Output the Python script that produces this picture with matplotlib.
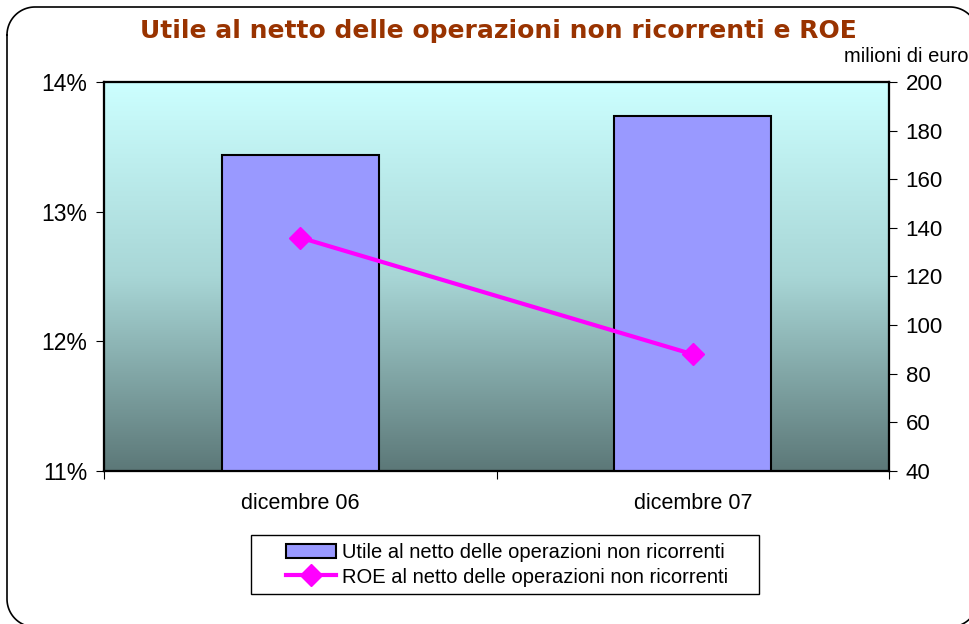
import numpy as np
import matplotlib
matplotlib.use("Agg")
import matplotlib.pyplot as plt
from matplotlib.patches import Rectangle
from matplotlib.colors import LinearSegmentedColormap
from matplotlib.ticker import FuncFormatter

# data
categories = ["dicembre 06", "dicembre 07"]
utile = [170, 186]          # milioni di euro (right axis)
roe = [12.80, 11.90]        # % (left axis)

plt.rcParams['font.family'] = ['Liberation Sans', 'DejaVu Sans']

fig = plt.figure(figsize=(9.69, 6.24), dpi=100)
W, H = 969, 624


def rounded_outline(x0, y0, x1, y1, r, n=30):
    # corners: top-left, top-right, bottom-right, bottom-left (y grows downward)
    pts = []
    for cx, cy, a0 in [(x0 + r, y0 + r, 180), (x1 - r, y0 + r, 270),
                       (x1 - r, y1 - r, 0), (x0 + r, y1 - r, 90)]:
        t = np.radians(np.linspace(a0, a0 + 90, n))
        pts.append(np.column_stack([cx + r * np.cos(t), cy + r * np.sin(t)]))
    pts = np.vstack(pts + [pts[0][:1]])
    return pts[:, 0], pts[:, 1]


# background axes in pixel units for the slide frame and legend box
bg = fig.add_axes([0, 0, 1, 1], zorder=-1)
bg.set_xlim(0, W)
bg.set_ylim(H, 0)
bg.axis("off")
fx, fy = rounded_outline(7, 7, 978, 627, 28)
bg.plot(fx, fy, color="black", linewidth=1.2)
bg.add_patch(Rectangle((251, 535), 508, 59, fill=False, edgecolor="black", linewidth=1.0))

ax = fig.add_axes([104 / W, 1 - 471 / H, 785 / W, 389 / H])
ax2 = ax.twinx()

# gradient background
cmap = LinearSegmentedColormap.from_list("bg", ["#CCFFFF", "#A8D6D6", "#5C7878"])
grad = np.linspace(0, 1, 256).reshape(-1, 1)
ax.imshow(grad, aspect="auto", cmap=cmap, extent=[0, 2, 11, 14], zorder=0)

x = np.arange(len(categories)) + 0.5
ax.set_xlim(0, 2)
ax.set_ylim(11, 14)
ax2.set_ylim(40, 200)

ax2.bar(x, utile, width=0.4, color="#9999FF", edgecolor="black",
        linewidth=1.5, zorder=2, label="Utile al netto delle operazioni non ricorrenti")

# line on its own axes so it sits above the bars
ax3 = ax.twinx()
ax3.set_ylim(11, 14)
ax3.set_yticks([])
ax3.plot(x, roe, color="#FF00FF", linewidth=3, marker="D", markersize=11,
         label="ROE al netto delle operazioni non ricorrenti")

ax.set_yticks([11, 12, 13, 14])
ax.yaxis.set_major_formatter(FuncFormatter(lambda v, p: f"{v:.0f}%"))
ax2.set_yticks(np.arange(40, 201, 20))
ax2.yaxis.tick_right()
ax.set_xticks([0, 1, 2])
ax.set_xticklabels([])
ax.set_xticks(x, minor=True)
ax.set_xticklabels(categories, minor=True)
ax.tick_params(axis="x", which="minor", length=0, pad=16, labelsize=15.5)
ax.tick_params(axis="x", which="major", length=6, direction="out")
ax.tick_params(axis="y", length=6, labelsize=16.5, pad=6)
ax2.tick_params(axis="y", length=6, labelsize=16, pad=6)

for a in (ax, ax2, ax3):
    for s in a.spines.values():
        s.set_linewidth(1.5)
        s.set_color("black")

fig.text(498 / W, 1 - 31 / H, "Utile al netto delle operazioni non ricorrenti e ROE",
         ha="center", va="center", fontsize=18, fontweight="bold",
         color="#993300", family=["DejaVu Sans"])
fig.text(968 / W, 1 - 57 / H, "milioni di euro", ha="right", va="center",
         fontsize=14.5)

h1, l1 = ax2.get_legend_handles_labels()
h2, l2 = ax3.get_legend_handles_labels()
fig.legend(h1 + h2, l1 + l2, loc="center", bbox_to_anchor=(507 / W, 1 - 565 / H),
           fontsize=14.5, frameon=False,
           handlelength=2.5, borderpad=0.3, labelspacing=0.25, handletextpad=0.3)

fig.savefig("out.png", dpi=100)
